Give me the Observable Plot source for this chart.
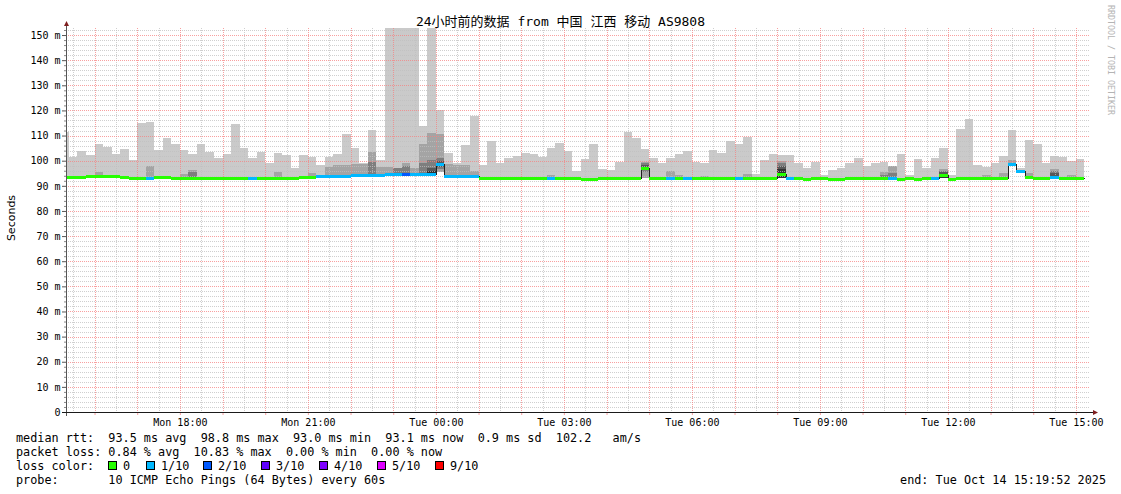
<!DOCTYPE html>
<html><head><meta charset="utf-8">
<script src="https://cdn.jsdelivr.net/npm/d3@7"></script>
<script src="https://cdn.jsdelivr.net/npm/@observablehq/plot@0.6"></script>
<style>html,body{margin:0;padding:0;background:#fff;} svg{display:block}</style>
</head><body><div id="chart"></div>
<script>
// ---- data (12-minute consolidated steps, k = 0..119) ----
const hi = [
 111.4,101.6,103.9,102.3,106.6,105.6,102.7,104.7,100.3,114.9,
 115.4,104.3,109.2,106.6,104.3,102.7,106.6,103.5,101.1,102.7,
 114.6,105.1,101.1,103.5,99.1,103.1,102.1,97.1,102.3,101.5,
 98.3,101.5,102.7,110.8,105.1,99.1,112.3,100.3,160,160,
 160,160,113.8,160,120.2,102.9,99.2,106.2,117.8,98.3,
 108.0,99.0,101.0,102.0,102.9,102.7,101.6,105.2,106.9,104.0,
 96.0,100.7,106.6,96.7,96.3,99.6,111.4,109.2,104.7,101.1,
 99.1,101.2,102.7,103.9,99.5,99.0,104.3,103.1,107.8,106.6,
 109.4,94.7,100.3,102.5,102.3,102.3,99.0,97.0,99.4,94.3,
 96.3,97.1,99.0,101.1,98.0,99.1,99.5,98.0,102.7,94.3,
 100.6,97.2,101.0,105.0,94.3,112.5,116.5,98.3,97.4,99.1,
 102.0,112.2,97.0,108.2,106.5,99.1,101.9,101.6,100.0,100.7
];
const lo = [
 93.3,93.3,93.4,93.5,93.6,93.6,93.6,93.3,92.9,92.9,
 93.0,93.3,93.3,92.9,92.9,92.9,92.9,92.9,92.9,92.9,
 92.9,92.9,93.0,92.9,92.6,92.6,92.4,92.4,93.2,93.2,
 93.5,93.5,93.6,93.6,94.0,94.0,94.1,94.2,94.3,94.3,
 94.3,94.3,94.3,94.4,95.6,93.8,93.7,93.7,93.6,92.8,
 92.8,92.8,92.8,92.8,92.8,92.8,92.8,92.8,92.7,92.7,
 92.7,92.6,92.6,92.7,92.7,92.7,92.7,92.7,93.0,92.7,
 92.7,92.7,92.7,92.7,92.7,92.7,92.7,92.7,92.7,92.7,
 92.7,92.7,92.7,92.7,93.0,92.7,92.7,92.5,92.7,92.7,
 92.5,92.5,92.7,92.7,92.7,92.7,92.7,92.8,92.5,92.8,
 92.5,92.8,92.8,93.0,92.5,92.7,92.7,92.7,92.7,92.7,
 92.7,98.5,95.6,93.2,92.7,92.7,93.2,92.7,92.7,92.7
];
const med = [
 93.6,93.6,93.7,93.8,94.0,93.9,93.9,93.6,93.2,93.2,
 93.3,93.6,93.6,93.2,93.2,93.2,93.2,93.2,93.2,93.2,
 93.2,93.2,93.3,93.2,93.1,93.1,93.1,93.1,93.6,93.6,
 93.8,93.8,93.9,93.9,94.3,94.3,94.4,94.5,94.6,94.6,
 94.6,94.6,94.6,94.7,98.8,94.1,94.0,94.0,93.9,93.1,
 93.1,93.1,93.1,93.1,93.1,93.1,93.1,93.1,93.0,93.0,
 93.0,92.9,92.9,93.0,93.0,93.0,93.0,93.0,97.0,93.0,
 93.0,93.0,93.0,93.0,93.0,93.0,93.0,93.0,93.0,93.0,
 93.0,93.0,93.0,93.0,94.7,93.0,93.0,92.8,93.0,93.0,
 92.8,92.8,93.0,93.0,93.0,93.0,93.0,93.1,92.8,93.1,
 92.8,93.1,93.1,94.3,92.8,93.0,93.0,93.0,93.0,93.0,
 93.0,98.8,95.9,93.5,93.0,93.0,93.5,93.0,93.0,93.0
];
const loss = [
 0,0,0,0,0,0,0,0,0,0,
 1,0,0,0,0,0,0,0,0,0,
 0,0,1,0,0,0,0,0,0,0,
 1,1,1,1,1,1,1,1,1,1,
 2,1,1,1,1,1,1,1,1,0,
 0,0,0,0,0,0,0,1,0,0,
 0,0,0,0,0,0,0,0,0,0,
 0,1,0,1,0,0,0,0,0,1,
 0,0,0,0,0,1,0,0,0,0,
 0,0,0,0,0,0,0,1,0,0,
 0,0,1,0,0,0,0,0,0,0,
 0,1,1,0,0,0,1,0,0,0
];
// inner smoke bands: [step, band, lower, upper]
const inner = [
 [4,2,93.6,95.4],[10,2,93.2,97.9],[14,2,93.0,94.7],[15,2,93.0,96.3],[15,3,93.1,95.5],
 [25,2,93.0,95.6],[29,2,93.4,95.2],[31,2,93.6,97.6],[32,2,93.7,98.4],[33,2,93.7,98.4],
 [34,2,94.0,98.8],[35,2,94.0,98.8],[36,2,94.1,103.6],[36,3,94.2,99.5],[37,2,94.2,97.3],
 [38,2,94.3,97.6],[39,2,94.3,97.2],[39,3,94.4,96.9],[40,2,94.3,99.0],[40,3,94.4,98.0],
 [41,2,94.3,97.0],[42,2,94.3,106.6],[42,3,94.4,99.0],
 [43,2,94.4,110.9],[43,3,94.5,100.3],[43,4,94.6,97.0],[43,5,94.6,96.0],
 [44,2,95.6,110.6],[44,3,96.5,100.9],[44,4,97.5,100.0],
 [45,2,93.9,98.7],[46,2,93.8,98.3],[47,2,93.8,98.3],[48,2,93.7,96.0],[57,2,92.9,94.5],
 [68,2,93.0,99.5],[68,3,95.5,99.0],[68,4,96.5,98.3],
 [71,2,92.9,96.0],[72,2,92.9,94.2],[75,2,92.9,94.0],[80,2,92.9,94.7],
 [84,2,93.0,100.0],[84,3,93.0,99.0],[84,4,93.0,98.0],[84,5,93.0,96.5],
 [96,2,92.9,95.4],[96,3,93.0,94.5],[97,2,92.9,98.0],[97,3,93.0,95.0],
 [103,2,93.0,96.5],[103,3,93.0,96.0],[103,4,93.0,95.5],[103,5,93.0,94.0],
 [108,2,92.9,94.3],[110,2,92.9,95.0],[111,2,98.5,100.3],[113,2,93.3,95.2],
 [116,2,93.2,96.7],[116,3,93.3,96.0],[116,4,93.3,95.0],[118,2,92.9,94.5]
];
const lossLevels = [0,1,2,3,4,5,9];
const lossLabels = ["0","1/10","2/10","3/10","4/10","5/10","9/10"];
const lossColors = ["#26ff00","#00b8ff","#0059ff","#5e00ff","#7e00ff","#dd00ff","#ff0000"];
const bandColors = ["#cacaca","#cacaca","#a4a4a4","#7e7e7e","#585858","#323232"];
const yTicks = [0,10,20,30,40,50,60,70,80,90,100,110,120,130,140,150];
const xTickTimes = [
 Date.UTC(2025,9,13,18), Date.UTC(2025,9,13,21), Date.UTC(2025,9,14,0), Date.UTC(2025,9,14,3),
 Date.UTC(2025,9,14,6), Date.UTC(2025,9,14,9), Date.UTC(2025,9,14,12), Date.UTC(2025,9,14,15)
].map(t => new Date(t));
const xTickLabels = ["Mon 18:00","Mon 21:00","Tue 00:00","Tue 03:00","Tue 06:00","Tue 09:00","Tue 12:00","Tue 15:00"];
const titleText = "24小时前的数据 from 中国 江西 移动 AS9808";
const legendRows = [
 "median rtt:  93.5 ms avg  98.8 ms max  93.0 ms min  93.1 ms now  0.9 ms sd  102.2   am/s",
 "packet loss: 0.84 % avg  10.83 % max  0.00 % min  0.00 % now",
 "loss color:",
 "probe:       10 ICMP Echo Pings (64 Bytes) every 60s"
];
const endText = "end: Tue Oct 14 15:19:52 2025";

// ---- build ----
const tStart = new Date(Date.UTC(2025,9,13,15,19,52));
const tEnd = new Date(Date.UTC(2025,9,14,15,19,52));
const firstEdge = Date.UTC(2025,9,13,15,24,0);
const STEP = 12*60*1000;
const steps = hi.map((h,k) => ({
  x1: k === 0 ? tStart : new Date(firstEdge + (k-1)*STEP),
  x2: new Date(firstEdge + k*STEP),
  hi: h, lo: lo[k], med: med[k], color: lossColors[lossLevels.indexOf(loss[k])]
}));
const innerRects = inner.map(([k,b,l,u]) => ({x1: steps[k].x1, x2: steps[k].x2, y1: l, y2: u, fill: bandColors[b]}));
const medPts = steps.map(s => ({x: s.x1, y: s.med}));
medPts.push({x: steps[steps.length-1].x2, y: steps[steps.length-1].med});

const minorY = d3.range(2, 153, 2).filter(v => v % 10 !== 0);
const majorY = yTicks.filter(v => v > 0);
const hours = d3.utcHour.range(tStart, tEnd);
const halfHours = d3.utcMinute.every(30).range(tStart, tEnd).filter(d => d.getUTCMinutes() === 30);

const GRID = "rgba(191,191,191,0.75)";
const MGRID = "rgba(245,128,128,0.75)";
const crisp = {shapeRendering: "crispEdges"};

const plot = Plot.plot({
  width: 1121, height: 494,
  marginLeft: 66, marginRight: 31, marginTop: 28, marginBottom: 82,
  style: {fontFamily: "'DejaVu Sans Mono', monospace", fontSize: "10px", background: "#fff", color: "#000", overflow: "visible"},
  x: {type: "utc", domain: [tStart, tEnd], label: null},
  y: {domain: [0, 152.8], label: null},
  color: {type: "identity"},
  marks: [
    Plot.rect(steps, {x1: "x1", x2: "x2", y1: "lo", y2: "hi", fill: "#cacaca", clip: true, ...crisp}),
    Plot.rect(innerRects, {x1: "x1", x2: "x2", y1: "y1", y2: "y2", fill: "fill", clip: true, ...crisp}),
    Plot.ruleY(minorY, {stroke: GRID, strokeDasharray: "1,1", ...crisp}),
    Plot.ruleX(halfHours, {stroke: GRID, strokeDasharray: "1,1", ...crisp}),
    Plot.ruleY(majorY, {stroke: MGRID, strokeDasharray: "1,1", ...crisp}),
    Plot.ruleX(hours, {stroke: MGRID, strokeDasharray: "1,1", ...crisp}),
    Plot.line(medPts, {x: "x", y: "y", curve: "step-after", stroke: "#202020", strokeWidth: 1, ...crisp}),
    Plot.ruleY(steps, {x1: "x1", x2: "x2", y: "med", stroke: "color", strokeWidth: 3, ...crisp}),
    Plot.axisY(yTicks, {tickSize: 4, tickPadding: 2, stroke: "#555", label: null,
      tickFormat: d => d === 0 ? "0" : d + " m"}),
    Plot.axisY(minorY, {tickSize: 2, stroke: "#888", label: null, tickFormat: () => ""}),
    Plot.axisX(hours, {tickSize: 3, stroke: MGRID, label: null, tickFormat: () => ""}),
    Plot.axisX(xTickTimes, {tickSize: 0, tickPadding: 6, label: null,
      tickFormat: d => xTickLabels[xTickTimes.findIndex(t => +t === +d)]})
  ]
});
document.getElementById("chart").appendChild(plot);

// ---- decorations & text ----
const svg = d3.select(plot);
const xs = plot.scale("x"), ys = plot.scale("y");
const x0 = xs.range[0], x1r = xs.range[1], yb = ys.range[0], yt = ys.range[1];
svg.append("line").attr("x1", x0 + 0.5).attr("x2", x0 + 0.5).attr("y1", yb + 4).attr("y2", yt - 4)
  .attr("stroke", "#555").attr("shape-rendering", "crispEdges");
svg.append("line").attr("x1", x0 - 4).attr("x2", x1r + 3).attr("y1", yb + 0.5).attr("y2", yb + 0.5)
  .attr("stroke", "#1a1a1a").attr("shape-rendering", "crispEdges");
svg.append("polygon").attr("points", `${x0-2},${yt-2} ${x0+3},${yt-2} ${x0+0.5},${yt-7}`).attr("fill", "#7f1f1f");
svg.append("polygon").attr("points", `${x1r+3},${yb-2} ${x1r+3},${yb+3} ${x1r+8},${yb+0.5}`).attr("fill", "#7f1f1f");

const mono = "'DejaVu Sans Mono', monospace";
const txt = (x, y, s, size, anchor, family, fill) => svg.append("text")
  .attr("x", x).attr("y", y).attr("text-anchor", anchor).attr("font-family", family)
  .attr("font-size", size).attr("fill", fill).attr("xml:space", "preserve").style("white-space", "pre").text(s);

txt(560.5, 26, titleText, 13, "middle", "'DejaVu Sans Mono','Noto Sans CJK SC',monospace", "#000");
svg.append("text").attr("transform", "translate(15,218) rotate(-90)").attr("text-anchor", "middle")
  .attr("font-family", "'DejaVu Sans', sans-serif").attr("font-size", 11).attr("fill", "#000").text("Seconds");
svg.append("text").attr("transform", "translate(1108,5) rotate(90)").attr("text-anchor", "start")
  .attr("font-family", mono).attr("font-size", 8.3).attr("fill", "#b4b4b4").text("RRDTOOL / TOBI OETIKER");

const rowY = [442, 456, 470, 484];
const LF = 11.8;
legendRows.forEach((r, i) => txt(16, rowY[i], r, LF, "start", mono, "#000"));
const sqX = [108, 146, 203, 261, 319, 377, 435];
lossLabels.forEach((lab, i) => {
  svg.append("rect").attr("x", sqX[i] + 0.5).attr("y", rowY[2] - 8.5).attr("width", 8).attr("height", 8)
    .attr("fill", lossColors[i]).attr("stroke", "#000").attr("stroke-width", 1);
  txt(sqX[i] + 15, rowY[2], lab, LF, "start", mono, "#000");
});
txt(1106, rowY[3], endText, LF, "end", mono, "#000");
</script>
</body></html>
